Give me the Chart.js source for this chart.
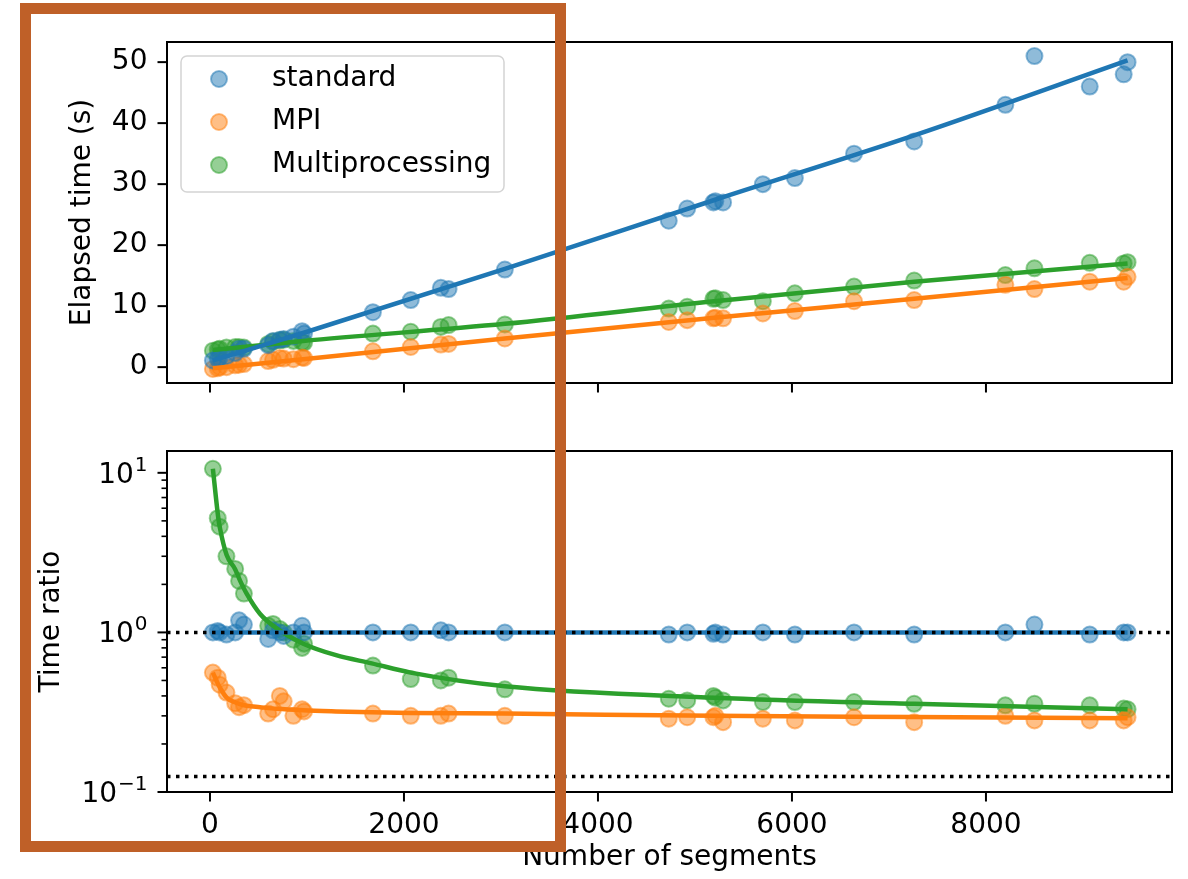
<!DOCTYPE html>
<html>
<head>
<meta charset="utf-8">
<script src="https://cdn.jsdelivr.net/npm/chart.js@4.4.1/dist/chart.umd.min.js"></script>
<style>
body { margin: 0; background: #fff; }
#wrap { position: relative; width: 1188px; height: 879px; }
canvas { position: absolute; left: 0; }
#top_canvas { top: 0; }
#bottom_canvas { top: 420px; }
#highlight { position: absolute; left: 20px; top: 3px; width: 546px; height: 849px;
  border: 11px solid #bf6028; box-sizing: border-box; }
</style>
</head>
<body>
<div id="wrap">
  <canvas id="top_canvas" width="1188" height="420"></canvas>
  <canvas id="bottom_canvas" width="1188" height="459"></canvas>
  <div id="highlight"></div>
</div>
<script>
// values
const seriesNames = ['standard', 'MPI', 'Multiprocessing'];

const segments = [30, 80, 100, 170, 260, 300, 350, 600, 650, 720, 760, 860, 950, 970,
  1680, 2070, 2380, 2460, 3040, 4730, 4920, 5190, 5210, 5290, 5700, 6030, 6640, 7260,
  8200, 8500, 9070, 9420, 9460];

const standardTime = [1.1, 1.4, 1.5, 1.8, 2.3, 3.0, 3.0, 3.6, 4.3, 4.5, 4.6, 5.0, 5.9, 5.5,
  9.0, 11.0, 13.0, 12.8, 16.0, 24.0, 26.0, 27.0, 27.2, 27.0, 30.0, 31.0, 35.0, 37.0,
  43.0, 51.0, 46.0, 48.0, 50.0];
const mpiTime = [-0.3, -0.2, 0.0, 0.0, 0.3, 0.4, 0.5, 1.0, 1.2, 1.5, 1.4, 1.3, 1.6, 1.5,
  2.6, 3.3, 3.7, 3.8, 4.7, 7.4, 7.7, 8.0, 8.1, 8.0, 8.8, 9.2, 10.8, 11.0,
  13.5, 12.8, 14.0, 14.0, 14.8];
const mpTime = [2.7, 2.9, 3.0, 3.2, 3.3, 3.3, 3.2, 3.8, 4.2, 4.4, 4.5, 4.3, 4.1, 4.0,
  5.5, 5.8, 6.6, 6.9, 7.0, 9.6, 9.9, 11.2, 11.3, 11.0, 10.8, 12.1, 13.2, 14.2,
  15.1, 16.2, 17.1, 17.0, 17.2];

const standardRatio = [1.0, 1.02, 1.0, 0.97, 1.0, 1.19, 1.12, 0.91, 1.03, 1.0, 0.95, 1.0, 1.1, 1.0,
  1.0, 1.0, 1.03, 1.0, 1.0, 0.97, 1.0, 0.98, 1.0, 0.97, 1.0, 0.97, 1.0, 0.97,
  1.0, 1.12, 0.97, 1.0, 1.0];
const mpiRatio = [0.56, 0.52, 0.47, 0.42, 0.36, 0.34, 0.35, 0.31, 0.33, 0.40, 0.37, 0.30, 0.33, 0.32,
  0.31, 0.30, 0.30, 0.31, 0.30, 0.288, 0.294, 0.294, 0.30, 0.274, 0.288, 0.281, 0.294, 0.274,
  0.30, 0.281, 0.281, 0.281, 0.294];
const mpRatio = [10.6, 5.2, 4.6, 3.0, 2.5, 2.1, 1.75, 1.1, 1.13, 1.05, 1.0, 0.9, 0.8, 0.85,
  0.62, 0.51, 0.50, 0.52, 0.44, 0.384, 0.375, 0.40, 0.39, 0.375, 0.366, 0.366, 0.366, 0.357,
  0.349, 0.357, 0.349, 0.333, 0.33];

// fitted curves, read at a few places
const fitSegmentsTop = [30, 960, 3040, 5200, 7260, 9460];
const standardFit = [1.1, 5.6, 16.1, 27.4, 38.0, 50.3];
const mpiFit = [-0.2, 1.3, 4.7, 8.1, 11.2, 14.6];
const mpFit = [2.8, 4.3, 7.1, 10.8, 14.0, 17.0];

const fitSegmentsBottom = [30, 86, 103, 172, 258, 309, 378, 515, 688, 962, 1300, 1667, 2069, 3041, 5200, 7260, 9460];
const standardRatioFit = [1, 1, 1, 1, 1, 1, 1, 1, 1, 1, 1, 1, 1, 1, 1, 1, 1];
const mpiRatioFit = [0.56, 0.47, 0.45, 0.39, 0.365, 0.355, 0.347, 0.34, 0.332, 0.325, 0.32, 0.316, 0.313, 0.31, 0.30, 0.295, 0.29];
const mpRatioFit = [10.6, 5.2, 4.5, 3.05, 2.5, 2.12, 1.75, 1.31, 1.06, 0.85, 0.72, 0.64, 0.56, 0.46, 0.39, 0.357, 0.33];

const refLevels = [1, 0.125];

// axes
const xLimits = [-443, 9918];
const xTicks = [0, 2000, 4000, 6000, 8000];
const timeLimits = [-2.6, 53.3];
const timeTicks = [0, 10, 20, 30, 40, 50];
const ratioLimits = [0.1, 13.7];
const ratioTicks = [0.1, 1, 10];
const ratioExponents = ['\u22121', '0', '1'];
const ratioMinorTicks = [0.2, 0.3, 0.4, 0.5, 0.6, 0.7, 0.8, 0.9, 2, 3, 4, 5, 6, 7, 8, 9];

const lineColors = ['#1f77b4', '#ff7f0e', '#2ca02c'];
const dotColors = ['rgba(31,119,180,0.5)', 'rgba(255,127,14,0.5)', 'rgba(44,160,44,0.5)'];

Chart.defaults.font.family = '"DejaVu Sans", sans-serif';
Chart.defaults.font.size = 28;
Chart.defaults.color = '#000';

function pts(xs, ys) {
  return xs.map((x, i) => ({x: x, y: ys[i]}));
}

function dots(i, ys) {
  return {
    label: seriesNames[i], data: pts(segments, ys), showLine: false,
    pointRadius: 8, pointBackgroundColor: dotColors[i], pointBorderColor: dotColors[i],
    pointBorderWidth: 2, order: 3
  };
}

function fitLine(i, xs, ys) {
  return {
    label: '', data: pts(xs, ys), showLine: true, pointRadius: 0,
    borderColor: lineColors[i], borderWidth: 4.5, cubicInterpolationMode: 'monotone', order: 2
  };
}

// matplotlib-like box and outward ticks
const frameAndTicks = {
  id: 'frameAndTicks',
  afterDraw(chart, args, opts) {
    const {ctx, chartArea: a, scales} = chart;
    ctx.save();
    ctx.strokeStyle = '#000';
    function seg(x1, y1, x2, y2) { ctx.beginPath(); ctx.moveTo(x1, y1); ctx.lineTo(x2, y2); ctx.stroke(); }
    ctx.lineWidth = 2;
    xTicks.forEach(v => { const px = scales.x.getPixelForValue(v); seg(px, a.bottom, px, a.bottom + 9.5); });
    opts.yMajor.forEach(v => { const py = scales.y.getPixelForValue(v); seg(a.left - 9.5, py, a.left, py); });
    ctx.lineWidth = 1.6;
    opts.yMinor.forEach(v => { const py = scales.y.getPixelForValue(v); seg(a.left - 5.5, py, a.left, py); });
    ctx.lineWidth = 2;
    ctx.strokeRect(a.left, a.top, a.right - a.left, a.bottom - a.top);
    ctx.restore();
  }
};
Chart.register(frameAndTicks);

// 10^n labels with a raised exponent, like mathtext
const powerLabels = {
  id: 'powerLabels',
  afterDraw(chart) {
    const {ctx, chartArea: a, scales} = chart;
    ctx.save();
    ctx.fillStyle = '#000';
    ctx.textBaseline = 'alphabetic';
    ctx.textAlign = 'left';
    ratioTicks.forEach((v, i) => {
      const py = scales.y.getPixelForValue(v);
      const right = a.left - 19.5;
      ctx.font = '20px "DejaVu Sans"';
      const ew = ctx.measureText(ratioExponents[i]).width;
      ctx.font = '28px "DejaVu Sans"';
      const bw = ctx.measureText('10').width;
      const base = py + 10;
      ctx.fillText('10', right - ew - bw - 1, base);
      ctx.font = '20px "DejaVu Sans"';
      ctx.fillText(ratioExponents[i], right - ew, base - 12);
    });
    ctx.restore();
  }
};

const legendBox = {
  id: 'legendBox',
  afterDraw(chart) {
    const {ctx, chartArea: a} = chart;
    const left = a.left + 14, top = a.top + 14;
    ctx.save();
    ctx.fillStyle = 'rgba(255,255,255,0.8)';
    ctx.strokeStyle = '#d4d4d4';
    ctx.lineWidth = 1.5;
    ctx.beginPath();
    ctx.roundRect(left, top, 323, 136, 6);
    ctx.fill();
    ctx.stroke();
    chart.data.datasets.filter(d => d.showLine === false).forEach((d, i) => {
      const cy = top + 23 + i * 43;
      ctx.beginPath();
      ctx.arc(left + 38, cy, 8, 0, Math.PI * 2);
      ctx.fillStyle = d.pointBackgroundColor;
      ctx.fill();
      ctx.lineWidth = 2;
      ctx.strokeStyle = d.pointBorderColor;
      ctx.stroke();
      ctx.fillStyle = '#000';
      ctx.font = '28px "DejaVu Sans"';
      ctx.textBaseline = 'middle';
      ctx.fillText(d.label, left + 91, cy);
    });
    ctx.restore();
  }
};

const noGrid = {display: false, drawTicks: false};

const xAxis = (showLabels, height) => ({
  type: 'linear', min: xLimits[0], max: xLimits[1],
  grid: noGrid, border: {display: false},
  ticks: {display: showLabels, padding: 17, autoSkip: false, maxRotation: 0,
    callback: v => String(v)},
  title: {display: showLabels, text: 'Number of segments', padding: {top: 0, bottom: 4}},
  afterBuildTicks: s => { s.ticks = xTicks.map(v => ({value: v})); },
  afterFit: s => { s.height = height; }
});

var topChart = new Chart(document.getElementById('top_canvas'), {
  type: 'scatter',
  data: {
    datasets: [
      dots(0, standardTime), dots(1, mpiTime), dots(2, mpTime),
      fitLine(0, fitSegmentsTop, standardFit),
      fitLine(1, fitSegmentsTop, mpiFit),
      fitLine(2, fitSegmentsTop, mpFit)
    ]
  },
  plugins: [legendBox],
  options: {
    responsive: false, animation: false, events: [],
    layout: {padding: {left: 0, right: 16, top: 42, bottom: 0}},
    plugins: {
      legend: {display: false}, tooltip: {enabled: false},
      frameAndTicks: {yMajor: timeTicks, yMinor: []}
    },
    scales: {
      x: xAxis(false, 37),
      y: {
        type: 'linear', min: timeLimits[0], max: timeLimits[1],
        grid: noGrid, border: {display: false},
        ticks: {padding: 19.5},
        title: {display: true, text: 'Elapsed time (s)', padding: {top: 66, bottom: 0}},
        afterBuildTicks: s => { s.ticks = timeTicks.map(v => ({value: v})); },
        afterFit: s => { s.width = 167; }
      }
    }
  }
});

const refDatasets = refLevels.map(level => ({
  label: '', data: [{x: xLimits[0], y: level}, {x: xLimits[1], y: level}],
  showLine: true, pointRadius: 0, borderColor: '#000', borderWidth: 3.5,
  borderDash: [3.5, 5.5], order: 1
}));

var bottomChart = new Chart(document.getElementById('bottom_canvas'), {
  type: 'scatter',
  data: {
    datasets: [
      dots(0, standardRatio), dots(1, mpiRatio), dots(2, mpRatio),
      fitLine(0, fitSegmentsBottom, standardRatioFit),
      fitLine(1, fitSegmentsBottom, mpiRatioFit),
      fitLine(2, fitSegmentsBottom, mpRatioFit)
    ].concat(refDatasets)
  },
  plugins: [powerLabels],
  options: {
    responsive: false, animation: false, events: [],
    layout: {padding: {left: 0, right: 16, top: 31, bottom: 0}},
    plugins: {
      legend: {display: false}, tooltip: {enabled: false},
      frameAndTicks: {yMajor: ratioTicks, yMinor: ratioMinorTicks}
    },
    scales: {
      x: xAxis(true, 87),
      y: {
        type: 'logarithmic', min: ratioLimits[0], max: ratioLimits[1],
        grid: noGrid, border: {display: false},
        ticks: {display: false},
        title: {display: true, text: 'Time ratio', padding: {top: 35, bottom: 0}},
        afterBuildTicks: s => { s.ticks = ratioTicks.map(v => ({value: v})); },
        afterFit: s => { s.width = 167; }
      }
    }
  }
});
</script>
</body>
</html>
